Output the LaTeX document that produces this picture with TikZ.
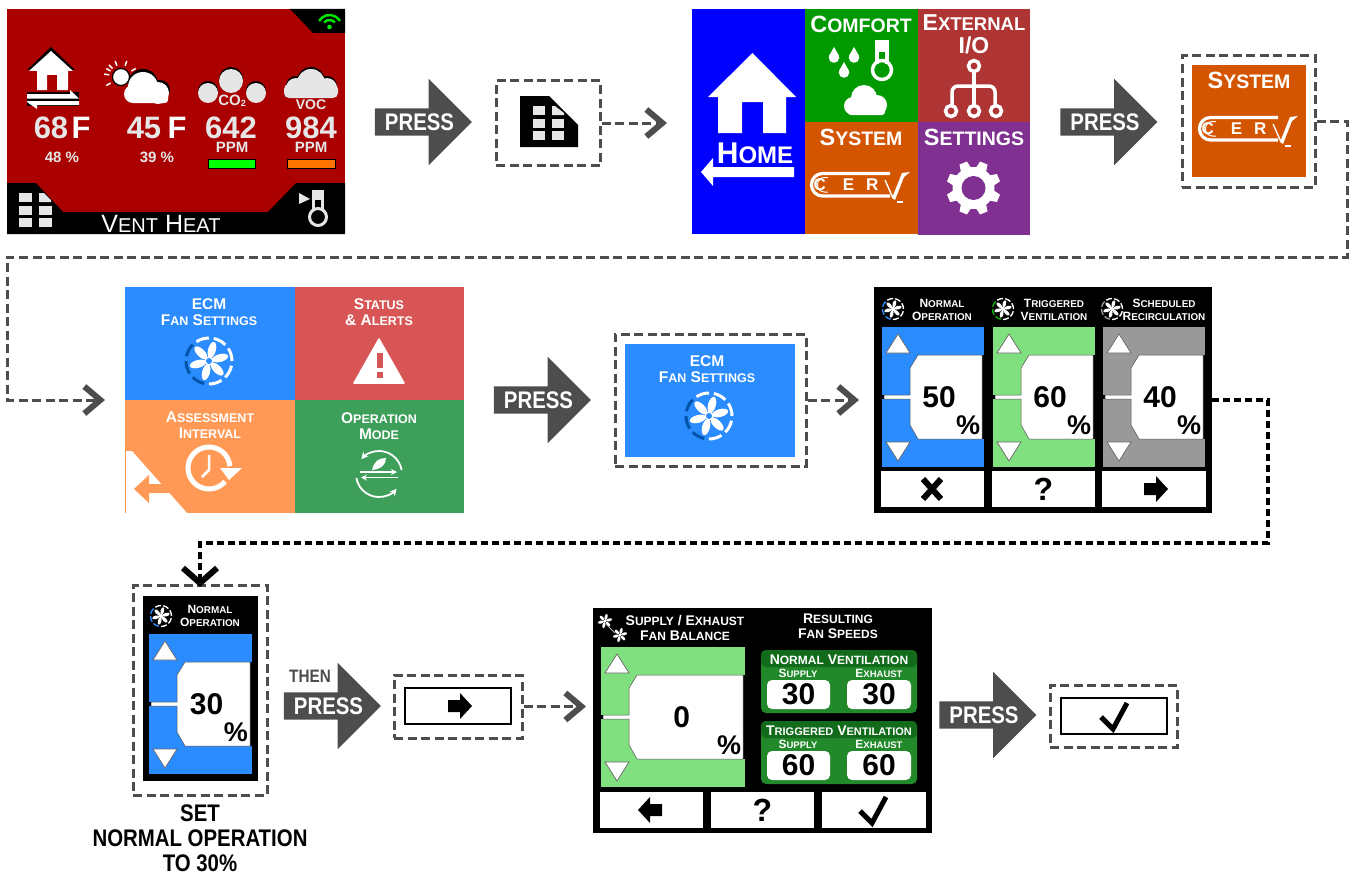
\documentclass[tikz,border=0pt]{standalone}
\usepackage{fontspec}
\setmainfont{Liberation Sans}
\newfontfamily\narrowfont[FakeStretch=.85]{Liberation Sans}
\usetikzlibrary{shapes.arrows}
\usetikzlibrary{positioning}
\usetikzlibrary{arrows.meta}

\definecolor{screenred}{HTML}{AA0000}
\definecolor{paper}{HTML}{E6E6E6}
\definecolor{flowgray}{HTML}{4D4D4D}
\definecolor{homeblue}{HTML}{0000FF}
\definecolor{comfortgreen}{HTML}{009900}
\definecolor{externalred}{HTML}{AF3535}
\definecolor{systemorange}{HTML}{D45500}
\definecolor{settingspurple}{HTML}{803090}
\definecolor{fanblue}{HTML}{2A8CFF}
\definecolor{fandark}{HTML}{0055AA}
\definecolor{alertred}{HTML}{D85555}
\definecolor{intervalorange}{HTML}{FF9955}
\definecolor{modegreen}{HTML}{3D9F5A}
\definecolor{triggergreen}{HTML}{80E080}
\definecolor{recircgray}{HTML}{999999}
\definecolor{speedgreen}{HTML}{22892A}
\definecolor{speeddark}{HTML}{116B1A}

\newcommand{\capfont}[2]{\bfseries\fontsize{#1}{#1}\selectfont\def\lowsize{#2}}
\newcommand{\cw}[2]{#1{\fontsize{\lowsize}{\lowsize}\selectfont #2}}

\newcommand{\fanicon}[6]{
	\begin{scope}[shift={(#1,#2)},x=#3pt,y=#3pt]
		\foreach \a in {15,75,...,315}
			\fill[#6,rotate=\a] (.5,0) ellipse [x radius=.36,y radius=.17];
		\fill[#6] (0,0) circle [radius=.2];
		\foreach \a in {0,45,90,270,315}
			\draw[#4,line width=#3*.13pt] (\a:1) arc [start angle=\a,delta angle=33,radius=1];
		\foreach \a in {135,180,225}
			\draw[#5,line width=#3*.13pt] (\a:1) arc [start angle=\a,delta angle=33,radius=1];
	\end{scope}
}

\newcommand{\slidepanel}[6]{
	\begin{scope}[shift={(#1,#2)}]
		\fill[#4] (0,0) rectangle (#3,140);
		\fill[black] (#3-2,28) rectangle (#3,112);
		\fill[black] (0,68) rectangle (2,72);
		\filldraw[white,draw=black!70,line width=.5] (36,28) -- (#3-2,28) -- (#3-2,112) -- (36,112)
			-- (28,98) -- (28,72) -- (2,72) -- (2,68) -- (28,68) -- (28,41) -- cycle;
		\filldraw[white,draw=black!60,line width=.7] (16,7) -- (28,26) -- (4,26) -- cycle;
		\filldraw[white,draw=black!60,line width=.7] (16,134) -- (28,115) -- (4,115) -- cycle;
		\node[value text] (#6val) at (#3*.56,70) {#5};
		\node[percent text] (#6pct) at (#3-16,98) {\%};
	\end{scope}
}

\newcommand{\rightglyph}[2]{
	\fill[black] (#1-12,#2-6) -- (#1,#2-6) -- (#1,#2-13) -- (#1+12,#2) -- (#1,#2+13) -- (#1,#2+6) -- (#1-12,#2+6) -- cycle;
}
\newcommand{\leftglyph}[2]{
	\fill[black] (#1+12,#2-6) -- (#1,#2-6) -- (#1,#2-13) -- (#1-12,#2) -- (#1,#2+13) -- (#1,#2+6) -- (#1+12,#2+6) -- cycle;
}
\newcommand{\checkglyph}[2]{
	\draw[black,line width=5,line join=miter] (#1-13,#2+1) -- (#1-1,#2+13) -- (#1+13,#2-13);
}

\newcommand{\cervlogo}[3]{
	\begin{scope}[shift={(#1,#2)}]
		\draw[white,line width=3.2,rounded corners=11] (80,1.5) -- (1.5,1.5) -- (1.5,24) -- (80,24);
		\draw[white,line width=1,rounded corners=7] (18,5.5) -- (7.5,5.5) -- (7.5,20) -- (18,20);
		\node[logo text] (#3) at (36,12.8) {C\hspace{17pt}E\hspace{12pt}R};
		\draw[white,line width=1.4] (75,8) -- (83,26);
		\fill[white] (82,26) -- (92,1) -- (100,0) -- (94,5) -- (85,28) -- cycle;
		\draw[white,line width=2.2] (87,30) -- (93,30);
	\end{scope}
}

\begin{document}
\begin{tikzpicture}[x=1pt,y=-1pt,>=Stealth,
	lab/.style={text=white,align=center,inner sep=0pt},
	value text/.style={text=black,inner sep=0pt,font=\capfont{30}{30}},
	percent text/.style={text=black,inner sep=0pt,font=\capfont{27}{27}},
	logo text/.style={text=white,inner sep=0pt,font=\capfont{17}{17}},
	key text/.style={text=black,inner sep=0pt,font=\capfont{32}{32}},
	press arrow/.style={single arrow,fill=flowgray,inner sep=0pt,minimum height=97,minimum width=86,
		single arrow head extend=29.5,text height=27pt,text depth=0pt,
		label={[press text,xshift=3pt]center:PRESS}},
	press text/.style={text=white,inner sep=0pt,font=\narrowfont\bfseries\fontsize{24}{24}\selectfont},
	dash frame/.style={draw=flowgray,line width=3,dash pattern=on 9pt off 4.5pt,inner sep=0pt},
	tile/.style={inner sep=0pt,outer sep=0pt},
	soft key/.style={fill=white,inner sep=0pt,minimum height=36},
	flow/.style={draw=flowgray,line width=3,dash pattern=on 9pt off 4.5pt,
		-{Straight Barb[length=16pt,width=27pt,line width=6pt]}},
	black flow/.style={draw=black,line width=3.5,dash pattern=on 7pt off 4pt,
		-{Straight Barb[length=15pt,width=34pt,line width=6pt]}}]

	\useasboundingbox (0,0) rectangle (1349,875);

	% status screen
	\node[tile,fill=screenred,minimum width=338,minimum height=225] (screen) at (176,121.5) {};
	\fill[black] (290,9) -- (313,33) -- (345,33) -- (345,9) -- cycle;
	\fill[black] (7,183) -- (36,183) -- (63,212) -- (268,212) -- (296,183) -- (345,183) -- (345,234) -- (7,234) -- cycle;
	\draw[green!90!black,line width=2.5] (329.5,27) ++(-150:12) arc [start angle=-150,end angle=-30,radius=12];
	\draw[green!90!black,line width=2.5] (329.5,27) ++(-140:7) arc [start angle=-140,end angle=-40,radius=7];
	\fill[green!90!black] (329.5,27) circle [radius=2.3];

	\fill[black] (51,47) -- (27,70) -- (75,70) -- cycle;
	\fill[white] (51,51) -- (29,71) -- (37,71) -- (37,90) -- (47,90) -- (47,75) -- (57,75) -- (57,90) -- (68,90) -- (68,71) -- (73,71) -- cycle;
	\fill[black] (27,92) rectangle (79,106);
	\fill[screenred] (27,92) -- (68,92) -- (68,88) -- (79,92) -- cycle;
	\fill[white] (27,94) -- (70,94) -- (70,90) -- (79,98.5) -- (27,98.5) -- cycle;
	\fill[white] (79,101) -- (27,101) -- (27,102) -- (37,109) -- (37,105) -- (79,105) -- cycle;

	\foreach \a in {-150,-110,-70,-30,30,150,190,225}
		\draw[white,line width=1.5] (121,77) ++(\a:12) -- ++(\a:5);
	\filldraw[white,draw=black,line width=1.2] (121,77) circle [radius=8.5];
	\fill[black] (143,84) circle [radius=15];
	\fill[black] (160,90) circle [radius=10];
	\fill[white] (143,87) circle [radius=15];
	\fill[white] (158,93) circle [radius=11];
	\fill[white] (133,94) circle [radius=9];
	\fill[white,rounded corners=3] (130,90) rectangle (168,103);

	\fill[black] (231,79) circle [radius=12];
	\fill[black] (208,91) circle [radius=10];
	\fill[black] (256,91) circle [radius=10];
	\fill[paper] (231,81) circle [radius=12];
	\fill[paper] (208,93) circle [radius=10];
	\fill[paper] (256,93) circle [radius=10];

	\fill[black] (311,81) circle [radius=14];
	\fill[black] (296,86) circle [radius=10];
	\fill[black] (327,86) circle [radius=10];
	\fill[paper] (311,83) circle [radius=14];
	\fill[paper] (296,88) circle [radius=10];
	\fill[paper] (327,88) circle [radius=10];
	\fill[paper,rounded corners=5] (284,84) rectangle (338,98);

	\node[lab,text=paper,font=\capfont{15}{15}] (co) at (232,101) {CO\raisebox{-1pt}{\fontsize{9}{9}\selectfont 2}};
	\node[lab,text=paper,font=\capfont{14}{14}] (voc) at (311,105) {VOC};
	\node[lab,text=paper,font=\capfont{31}{31}] (tin) at (51,128) {68};
	\node[lab,font=\capfont{31}{31}] (tinf) at (81,128) {F};
	\node[lab,text=paper,font=\capfont{31}{31}] (tout) at (144,128) {45};
	\node[lab,font=\capfont{31}{31}] (toutf) at (177,128) {F};
	\node[lab,text=paper,font=\capfont{31}{31}] (co2val) at (231,128) {642};
	\node[lab,text=paper,font=\capfont{31}{31}] (vocval) at (311,128) {984};
	\node[lab,text=paper,font=\capfont{15}{15}] (co2ppm) at (232,147.5) {PPM};
	\node[lab,text=paper,font=\capfont{15}{15}] (vocppm) at (311,147.5) {PPM};
	\node[lab,text=paper,font=\capfont{15}{15}] (hin) at (62,157) {48 \%};
	\node[lab,text=paper,font=\capfont{15}{15}] (hout) at (157,157) {39 \%};
	\filldraw[fill=green,draw=black,line width=1] (208,159.5) rectangle (255,168);
	\filldraw[fill=orange!90!red,draw=black,line width=1] (287.5,159) rectangle (335,168);

	\foreach \x in {19,39}
		\foreach \y in {206,218}
			\fill[paper] (\x,\y) rectangle (\x+12.5,\y+9);
	\fill[paper] (19,193) rectangle (31.5,202);
	\fill[paper] (39,193) -- (44,193) -- (51,200) -- (51,202) -- (39,202) -- cycle;
	\fill[paper] (299,193) -- (310,199) -- (299,204) -- cycle;
	\draw[paper,line width=3] (313.5,211) -- (313.5,191) -- (322,191) -- (322,211);
	\fill[paper] (315,190) rectangle (323,200);
	\draw[paper,line width=3] (318,217) circle [radius=8.5];
	\node[lab,font=\fontsize{25}{25}\selectfont\def\lowsize{20}] (mode) at (161,224) {\cw{V}{ENT} \cw{H}{EAT}};

	\node[press arrow] (press1) at (416.5,122) {};
	\node[dash frame,minimum width=104,minimum height=85] (fmenu) at (548,123) {};
	\fill[black] (520,96) -- (549,96) -- (578,125) -- (578,147) -- (520,147) -- cycle;
	\foreach \x in {533,552}
		\foreach \y in {118.5,130.5}
			\fill[paper] (\x,\y) rectangle (\x+12,\y+9);
	\fill[paper] (533,106) rectangle (545,115);
	\fill[paper] (552,106) -- (555,106) -- (564,113) -- (564,115) -- (552,115) -- cycle;

	% main menu
	\node[tile,fill=homeblue,minimum width=113,minimum height=225] (home) at (748.5,121.5) {};
	\node[tile,fill=comfortgreen,minimum width=113,minimum height=113] (comfort) at (861.5,65.5) {};
	\node[tile,fill=externalred,minimum width=112,minimum height=113] (external) [right=0pt of comfort] {};
	\node[tile,fill=systemorange,minimum width=113,minimum height=112] (system) [below=0pt of comfort] {};
	\node[tile,fill=settingspurple,minimum width=112,minimum height=113] (settings) [right=0pt of system] {};

	\fill[white] (752.5,53) -- (708,97) -- (718,97) -- (718,133) -- (742,133) -- (742,102) -- (763,102) -- (763,133) -- (786,133) -- (786,97) -- (796,97) -- cycle;
	\node[lab,font=\capfont{30}{24}] (homet) at (755,153) {\cw{H}{OME}};
	\fill[white] (701,172) -- (713,158) -- (713,167) -- (794,167) -- (794,177) -- (713,177) -- (713,186) -- cycle;

	\node[lab,font=\capfont{23.5}{19.5}] (comfortt) at (861,24) {\cw{C}{OMFORT}};
	\foreach \x/\y in {834/55,854/55,844/70} {
		\fill[white] (\x,\y-8) -- (\x+5,\y+1) -- (\x-5,\y+1) -- cycle;
		\fill[white] (\x,\y+2.5) circle [radius=5.3];
	}
	\draw[white,line width=3.5] (877,64) -- (877,42) -- (887,42) -- (887,64);
	\fill[white] (876,40) rectangle (888,52);
	\draw[white,line width=3.5] (882,70) circle [radius=9.5];
	\fill[white] (864,98) circle [radius=13];
	\fill[white] (853,106) circle [radius=9];
	\fill[white] (877,105) circle [radius=10];
	\fill[white,rounded corners=3] (848,104) rectangle (885,115);

	\node[lab,font=\capfont{23}{18.5}] (externalt) at (974,34.5) {\cw{E}{XTERNAL}\\[0pt]I/O};
	\draw[white,line width=3.5] (974,66) circle [radius=5.5];
	\draw[white,line width=3.5] (974,72) -- (974,105);
	\draw[white,line width=3.5,rounded corners=6] (952,105) -- (952,86) -- (995,86) -- (995,105);
	\foreach \x in {951,974,996}
		\draw[white,line width=3.5] (\x,111) circle [radius=5.5];

	\node[lab,font=\capfont{23.5}{19.5}] (systemt) at (861,137) {\cw{S}{YSTEM}};
	\cervlogo{810}{172}{cerva}
	\node[lab,font=\capfont{23.5}{19.5}] (settingst) at (974,137) {\cw{S}{ETTINGS}};
	\begin{scope}[shift={(973.5,188)}]
		\foreach \a in {0,45,...,315}
			\fill[white,rotate=\a+22.5] (17,-6) -- (27,-4) -- (27,4) -- (17,6) -- cycle;
		\fill[white] (0,0) circle [radius=21];
		\fill[settingspurple] (0,0) circle [radius=12];
	\end{scope}

	\node[press arrow] (press2) at (1102,122) {};
	\node[dash frame,minimum width=133,minimum height=131] (fsystem) at (1248.5,121.5) {};
	\node[tile,fill=systemorange,minimum width=114,minimum height=112] (systembtn) at (1249,121) {};
	\node[lab,font=\capfont{23.5}{19.5}] (systembt) at (1249,80) {\cw{S}{YSTEM}};
	\cervlogo{1198}{116}{cervb}

	% system menu
	\node[tile,fill=fanblue,minimum width=170,minimum height=113] (ecm) at (210,343.5) {};
	\node[tile,fill=alertred,minimum width=169,minimum height=113] (status) [right=0pt of ecm] {};
	\node[tile,fill=intervalorange,minimum width=170,minimum height=113] (interval) [below=0pt of ecm] {};
	\node[tile,fill=modegreen,minimum width=169,minimum height=113] (opmode) [right=0pt of interval] {};

	\node[lab,font=\capfont{15.5}{12.5}] (ecmt) at (209,312) {ECM\\[.5pt]\cw{F}{AN} \cw{S}{ETTINGS}};
	\fanicon{209}{361}{23}{white}{fandark}{white}
	\fill[fanblue] (209,361) circle [radius=3];
	\node[lab,font=\capfont{15.5}{12.5}] (statust) at (379,312) {\cw{S}{TATUS}\\[.5pt]\& \cw{A}{LERTS}};
	\filldraw[white,draw=white,line width=1.5,line join=round] (379,339) -- (354,383) -- (404,383) -- cycle;
	\fill[alertred] (376.5,353) rectangle (382.5,368);
	\fill[alertred] (376.5,372) rectangle (382.5,377.5);

	\node[lab,font=\capfont{15.5}{12.5}] (intervalt) at (210,425) {\cw{A}{SSESSMENT}\\[.5pt]\cw{I}{NTERVAL}};
	\draw[white,line width=5] (209,468) ++(-5:21) arc [start angle=-5,end angle=-320,radius=21];
	\fill[white] (220,468) -- (242,468) -- (229,480) -- cycle;
	\draw[white,line width=2.5] (209,455) -- (209,470) -- (202,477);
	\fill[white] (126,451) -- (132,451) -- (187,513) -- (126,513) -- cycle;
	\fill[intervalorange] (134,489) -- (149,475) -- (149,484) -- (162,484) -- (170,493) -- (149,493) -- (149,503) -- cycle;

	\node[lab,font=\capfont{15.5}{12.5}] (opmodet) at (379,426) {\cw{O}{PERATION}\\[.5pt]\cw{M}{ODE}};
	\draw[white,line width=1.8,-{Stealth[length=7pt,width=7pt]}] (379,474) ++(-10:23) arc [start angle=-10,end angle=-140,radius=23];
	\draw[white,line width=1.8,-{Stealth[length=7pt,width=7pt]}] (379,474) ++(170:23) arc [start angle=170,end angle=40,radius=23];
	\draw[white,line width=1.5,-{Stealth[length=6pt,width=6pt]}] (360,472) -- (397,472);
	\draw[white,line width=1.5,-{Stealth[length=6pt,width=6pt]}] (398,477.5) -- (361,477.5);
	\fill[white] (372,470) .. controls (374,461) and (379,458) .. (386,458) .. controls (386,465) and (381,469) .. (372,470) -- cycle;

	\node[press arrow] (press3) at (535.5,400) {};
	\node[dash frame,minimum width=191,minimum height=132] (fecm) at (710.5,400) {};
	\node[tile,fill=fanblue,minimum width=170,minimum height=113] (ecmbtn) at (710,400.5) {};
	\node[lab,font=\capfont{15.5}{12.5}] (ecmbt) at (707,369) {ECM\\[.5pt]\cw{F}{AN} \cw{S}{ETTINGS}};
	\fanicon{709}{416}{23}{white}{fandark}{white}
	\fill[fanblue] (709,416) circle [radius=3];

	% fan speed screen
	\node[tile,fill=black,minimum width=338,minimum height=226] (fanscreen) at (1043,400) {};
	\fanicon{893}{309}{10.5}{white}{fanblue}{white}
	\fanicon{1003}{309}{10.5}{white}{green!70!black}{white}
	\fanicon{1112}{309}{10.5}{white}{recircgray}{white}
	\node[lab,font=\capfont{12}{9.9}] (normalt) at (942,309.5) {\cw{N}{ORMAL}\\[1pt]\cw{O}{PERATION}};
	\node[lab,font=\capfont{12}{9.9}] (triggert) at (1054,309.5) {\cw{T}{RIGGERED}\\[1pt]\cw{V}{ENTILATION}};
	\node[lab,font=\capfont{12}{9.9}] (schedt) at (1164,309.5) {\cw{S}{CHEDULED}\\[1pt]\cw{R}{ECIRCULATION}};
	\slidepanel{882}{327}{102}{fanblue}{50}{norm}
	\slidepanel{993}{327}{102}{triggergreen}{60}{trig}
	\slidepanel{1103}{327}{102}{recircgray}{40}{recirc}
	\node[soft key,minimum width=103] (keycancel) at (932.5,489) {};
	\node[soft key,minimum width=103,key text] (keyhelp) at (1043.5,489) {?};
	\node[soft key,minimum width=104] (keynext) at (1154,489) {};
	\draw[black,line width=6] (923,479) -- (941,499);
	\draw[black,line width=6] (941,479) -- (923,499);
	\rightglyph{1156}{489}

	% normal operation
	\node[dash frame,minimum width=134,minimum height=210] (fnormal) at (200,690) {};
	\node[tile,fill=black,minimum width=115,minimum height=185] (normalscreen) at (200.5,688.5) {};
	\fanicon{161}{616}{10.5}{white}{fanblue}{white}
	\node[lab,font=\capfont{12}{9.9}] (normalbt) at (210,616) {\cw{N}{ORMAL}\\[1pt]\cw{O}{PERATION}};
	\slidepanel{149}{634}{103}{fanblue}{30}{single}
	\node[lab,text=black,font=\narrowfont\bfseries\fontsize{24}{25}\selectfont] (sett) at (200,838) {SET\\NORMAL OPERATION\\TO 30\%};

	\node[press arrow] (press4) at (325.5,706) {};
	\node[lab,text=flowgray,font=\narrowfont\bfseries\fontsize{18}{18}\selectfont] (thent) at (310,676) {THEN};
	\node[dash frame,minimum width=128,minimum height=63] (fnext) at (458,706.5) {};
	\node[draw=black,line width=1.5,fill=white,inner sep=0pt,minimum width=106,minimum height=36] (nextbtn) at (458,706) {};
	\rightglyph{460}{706}

	% balance screen
	\node[tile,fill=black,minimum width=339,minimum height=225] (balscreen) at (762.5,720.5) {};
	\fanicon{605}{621}{8.5}{black}{black}{white}
	\fanicon{620}{635}{8.5}{black}{black}{white}
	\draw[white!70!black,line width=.8] (606,624) -- (615,633);
	\node[lab,font=\capfont{14}{12}] (balt) at (685,627.5) {\cw{S}{UPPLY} / \cw{E}{XHAUST}\\[1pt]\cw{F}{AN} \cw{B}{ALANCE}};
	\node[lab,font=\capfont{14}{12}] (speedst) at (838,626.5) {\cw{R}{ESULTING}\\[1pt]\cw{F}{AN} \cw{S}{PEEDS}};
	\slidepanel{601}{647}{144}{triggergreen}{0}{bal}

	\foreach \y/\n/\t/\v in {650/normv/{\cw{N}{ORMAL} \cw{V}{ENTILATION}}/30,721/trigv/{\def\lowsize{11}\cw{T}{RIGGERED} \cw{V}{ENTILATION}}/60} {
		\fill[speedgreen,rounded corners=5] (761,\y) rectangle (917,\y+63);
		\fill[speeddark,rounded corners=5] (761,\y) -- (761,\y+17) -- (917,\y+17) -- (917,\y) -- cycle;
		\node[lab,font=\capfont{14}{12}] (\n t) at (839,\y+10) {\t};
		\node[lab,font=\capfont{12}{9.5}] (\n s) at (798,\y+23) {\cw{S}{UPPLY}};
		\node[lab,font=\capfont{12}{9.5}] (\n e) at (879,\y+23) {\cw{E}{XHAUST}};
		\node[fill=white,rounded corners=5,inner sep=0pt,minimum width=63,minimum height=29,font=\capfont{30}{30}] (\n a) at (798.5,\y+44.5) {\v};
		\node[fill=white,rounded corners=5,inner sep=0pt,minimum width=64,minimum height=29,font=\capfont{30}{30}] (\n b) at (879,\y+44.5) {\v};
	}
	\node[soft key,minimum width=103] (keyback) at (651.5,810) {};
	\node[soft key,minimum width=103,key text] (keyhelpb) at (762.5,810) {?};
	\node[soft key,minimum width=104] (keydone) at (874,810) {};
	\leftglyph{650}{810}
	\checkglyph{873}{810}

	\node[press arrow] (press5) at (981,715) {};
	\node[dash frame,minimum width=127,minimum height=62] (fdone) at (1113.5,716) {};
	\node[draw=black,line width=1.5,fill=white,inner sep=0pt,minimum width=106,minimum height=36] (donebtn) at (1114,716) {};
	\checkglyph{1114}{716}

	% connectors
	\coordinate (tmenu) at (667,123);
	\coordinate (tfan) at (859,400);
	\coordinate (tbal) at (586,706.5);
	\coordinate (sysa) at (1347,121.5);
	\coordinate (sysb) at (1347,257);
	\coordinate (sysc) at (7,257);
	\coordinate (sysd) at (7,400);
	\coordinate (syse) at (105,400);
	\coordinate (fana) at (1268,400);
	\coordinate (fanb) at (1268,543);
	\coordinate (fanc) at (200,543);
	\coordinate (fand) at (200,587);

	\path[flow]
	(fmenu) edge (tmenu)
	(fecm) edge (tfan)
	(fnext) edge (tbal);
	\draw[flow] (fsystem) -- (sysa) -- (sysb) -- (sysc) -- (sysd) -- (syse);
	\draw[black flow] (fanscreen.east |- fana) -- (fana) -- (fanb) -- (fanc) -- (fand);
\end{tikzpicture}
\end{document}
